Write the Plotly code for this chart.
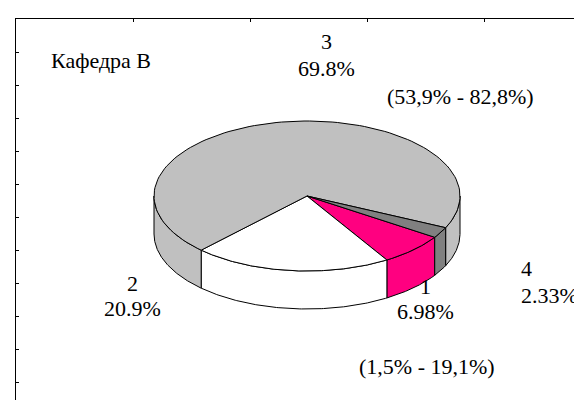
import numpy as np
import plotly.graph_objects as go

# ---- data ----
categories = ["1", "2", "3", "4"]
values = [6.98, 20.9, 69.8, 2.33]
interval_labels = {"3": "(53,9% - 82,8%)", "1": "(1,5% - 19,1%)"}
chart_title = "Кафедра В"

# ---- style ----
colors = {"1": "#FF0080", "2": "#FFFFFF", "3": "#C0C0C0", "4": "#808080"}
W, H = 582, 400
cx, cy, rx, ry, depth = 299.0, 188.0, 153.0, 75.0, 38.0
start_deg = 33.4  # clockwise on screen from 3 o'clock
FONT = "Liberation Serif, Times New Roman, Tinos, serif"
FS = 22

# (x, y of name line, y of percent line, xanchor)
label_pos = {"1": (417, 278, 303, "center"),
             "2": (124, 275, 300, "center"),
             "3": (318, 33, 60, "center"),
             "4": (511, 260, 287, "left")}
interval_pos = {"3": (452, 88), "1": (419, 358)}

total = sum(values)
fig = go.Figure()


def arc(t1, t2, dy=0.0, n=120):
    t = np.radians(np.linspace(t1, t2, n))
    return cx + rx * np.cos(t), cy + ry * np.sin(t) + dy


spans = []
a = start_deg
for cat, v in zip(categories, values):
    b = a + v / total * 360.0
    spans.append((cat, a, b))
    a = b

line = dict(color="black", width=1)

# side faces (front half: screen angle 0..180, modulo 360)
for cat, a, b in spans:
    for off in (0.0, 360.0, -360.0):
        lo, hi = max(a, 0 + off), min(b, 180 + off)
        if hi > lo:
            xt, yt = arc(lo, hi)
            xb, yb = arc(hi, lo, depth)
            xs = np.concatenate([xt, xb, xt[:1]])
            ys = np.concatenate([yt, yb, yt[:1]])
            fig.add_trace(go.Scatter(x=xs, y=ys, mode="lines", fill="toself",
                                     fillcolor=colors[cat], line=line,
                                     hoverinfo="skip", showlegend=False))

# top faces
for cat, a, b in spans:
    xa, ya = arc(a, b)
    xs = np.concatenate([[cx], xa, [cx]])
    ys = np.concatenate([[cy], ya, [cy]])
    fig.add_trace(go.Scatter(x=xs, y=ys, mode="lines", fill="toself",
                             fillcolor=colors[cat], line=line,
                             hoverinfo="skip", showlegend=False))

font = dict(family=FONT, size=FS, color="black")
annotations = []
for cat, v in zip(categories, values):
    x, y1, y2, xa = label_pos[cat]
    annotations.append(dict(x=x, y=y1, xref="x", yref="y", showarrow=False,
                            text=cat, xanchor=xa, font=font))
    annotations.append(dict(x=x, y=y2, xref="x", yref="y", showarrow=False,
                            text=f"{v:g}%", xanchor=xa, font=font))
for cat, txt in interval_labels.items():
    x, y = interval_pos[cat]
    annotations.append(dict(x=x, y=y, xref="x", yref="y", showarrow=False,
                            text=txt, font=font))
annotations.append(dict(x=41, y=52, xref="x", yref="y", showarrow=False,
                        xanchor="left", text=chart_title, font=font))

fig.update_layout(
    width=W, height=H,
    margin=dict(l=8, r=0, t=11, b=0),
    paper_bgcolor="white", plot_bgcolor="white",
    annotations=annotations,
    xaxis=dict(range=[8, W], side="top", showline=True, linecolor="black",
               linewidth=1, ticks="inside", ticklen=3, tickcolor="black",
               tick0=8, dtick=117, showticklabels=False, showgrid=False,
               zeroline=False, fixedrange=True),
    yaxis=dict(range=[H, 11], showline=True, linecolor="black", linewidth=1,
               ticks="inside", ticklen=3, tickcolor="black", tick0=11, dtick=33,
               showticklabels=False, showgrid=False, zeroline=False,
               fixedrange=True),
)

fig.write_html("out.html")
